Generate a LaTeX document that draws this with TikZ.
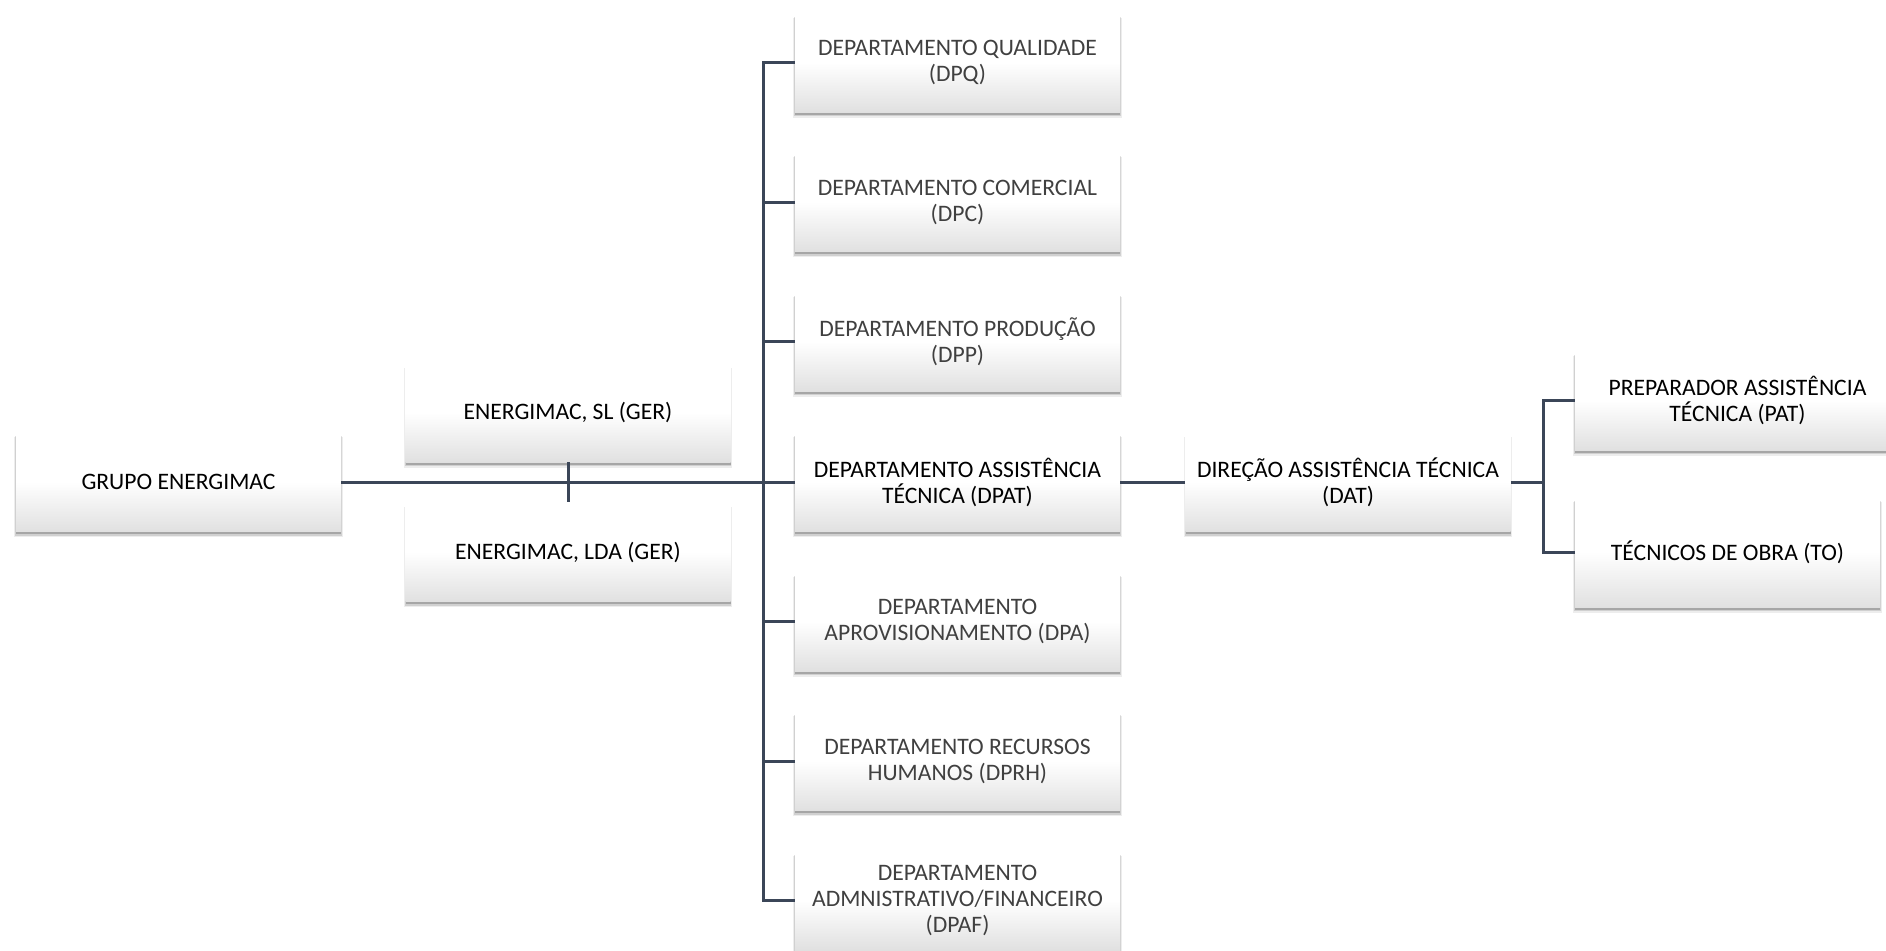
\documentclass[tikz,border=0pt]{standalone}
\usepackage{fontspec}
\setmainfont{Carlito}
\usetikzlibrary{shadows}
\definecolor{linecol}{HTML}{3B4658}

\begin{document}
\begin{tikzpicture}[x=0.5pt,y=-0.5pt,
    soft/.style={
      drop shadow={shadow xshift=0pt, shadow yshift=-2.6pt, shadow scale=1.012, fill=black, opacity=0.07},
      drop shadow={shadow xshift=0pt, shadow yshift=-2pt, shadow scale=1.006, fill=black, opacity=0.12},
      drop shadow={shadow xshift=0pt, shadow yshift=-1.3pt, fill=black, opacity=0.2}},
    box/.style={soft, top color=white, bottom color=black!12, middle color=white,
      minimum width=162.5pt, minimum height=49.5pt, inner sep=2pt, align=center,
      font=\fontsize{11.8}{13}\selectfont},
    main/.style={box, text=black},
    dept/.style={box, text=black!75},
    link/.style={draw=linecol, line width=1.5pt}]
    \useasboundingbox (0,0) rectangle (1886,950);
    \node[main] (grupo) at (178.5,482) {GRUPO ENERGIMAC};
    \node[main] (sl) at (568,412.5) {ENERGIMAC, SL (GER)};
    \node[main] (lda) at (568,552) {ENERGIMAC, LDA (GER)};
    \node[dept] (dpq) at (957.5,62.5) {DEPARTAMENTO QUALIDADE\\(DPQ)};
    \node[dept] (dpc) at (957.5,202) {DEPARTAMENTO COMERCIAL\\(DPC)};
    \node[dept] (dpp) at (957.5,341.5) {DEPARTAMENTO PRODUÇÃO\\(DPP)};
    \node[main] (dpat) at (957.5,482) {DEPARTAMENTO ASSISTÊNCIA\\TÉCNICA (DPAT)};
    \node[dept] (dpa) at (957.5,621.5) {DEPARTAMENTO\\APROVISIONAMENTO (DPA)};
    \node[dept] (dprh) at (957.5,761) {DEPARTAMENTO RECURSOS\\HUMANOS (DPRH)};
    \node[dept] (dpaf) at (957.5,900.5) {DEPARTAMENTO\\ADMNISTRATIVO/FINANCEIRO\\(DPAF)};
    \node[main] (dat) at (1348,482) {DIREÇÃO ASSISTÊNCIA TÉCNICA\\(DAT)};
    \node[main] (pat) at (1737.5,400.5) {PREPARADOR ASSISTÊNCIA\\TÉCNICA (PAT)};
    \node[main, minimum width=152.5pt, minimum height=55pt] (tobra) at (1727.5,552) {TÉCNICOS DE OBRA (TO)};
    \coordinate (bus) at (763,0);
    \coordinate (bus2) at (1543,0);
    % grupo to departments
    \draw[link] (grupo.east) -- (dpat.west);
    \draw[link] (sl.south) -- (lda.north);
    \draw[link] (dpq.west) -- (dpq.west -| bus) -- (dpaf.west -| bus) -- (dpaf.west);
    \foreach \d in {dpc,dpp,dpa,dprh}
      \draw[link] (\d.west) -- (\d.west -| bus);
    % assistencia tecnica
    \draw[link] (dpat.east) -- (dat.west);
    \draw[link] (dat.east) -- (dat.east -| bus2);
    \draw[link] (pat.west) -- (pat.west -| bus2) -- (tobra.west -| bus2) -- (tobra.west);
\end{tikzpicture}
\end{document}
